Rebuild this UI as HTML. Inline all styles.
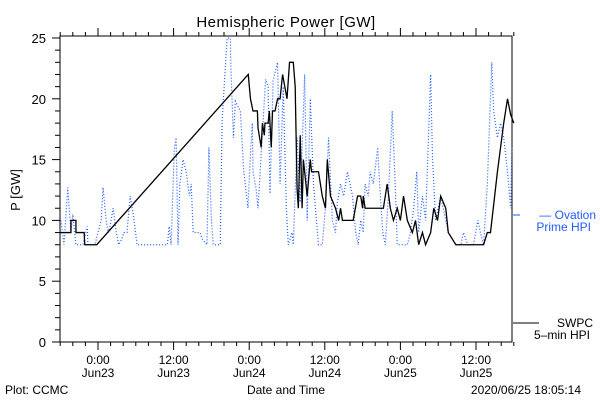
<!DOCTYPE html>
<html><head><meta charset="utf-8"><style>
body{margin:0;background:#fff}
svg{display:block}
text{font-family:"Liberation Sans",sans-serif;}
</style></head><body>
<svg id="chart" width="600" height="400" viewBox="0 0 600 400" xmlns="http://www.w3.org/2000/svg">
<rect x="0" y="0" width="600" height="400" fill="#fff"/>
<text x="286" y="27" font-size="15" text-anchor="middle" letter-spacing="0.5">Hemispheric Power [GW]</text>
<text x="20" y="190" font-size="13" text-anchor="middle" transform="rotate(-90 20 190)">P [GW]</text>
<text x="286" y="394" font-size="12" text-anchor="middle">Date and Time</text>
<text x="5" y="394" font-size="12">Plot: CCMC</text>
<text x="581" y="394" font-size="12" text-anchor="end">2020/06/25 18:05:14</text>
<g id="axes"></g>
<g id="series"></g>
<line x1="513" y1="215" x2="520" y2="215" stroke="#1f5cff" stroke-width="1"/>
<text x="596" y="219" font-size="12" fill="#1f5cff" text-anchor="end">— Ovation</text>
<text x="591" y="231" font-size="12" fill="#1f5cff" text-anchor="end">Prime HPI</text>
<line x1="513" y1="323" x2="539" y2="323" stroke="#000" stroke-width="1"/>
<text x="593" y="327" font-size="12" text-anchor="end">SWPC</text>
<text x="590" y="339" font-size="12" text-anchor="end">5–min HPI</text>
</svg>
<script>
const yTicks=[0,5,10,15,20,25];
const xTickHours=[0,12,24,36,48,60];
const xTickLabels=[["0:00","Jun23"],["12:00","Jun23"],["0:00","Jun24"],["12:00","Jun24"],["0:00","Jun25"],["12:00","Jun25"]];
const blueTimes=[-5.9,-5.4,-4.8,-4.3,-4.0,-3.5,-2.9,-2.4,-1.7,-1.6,
-0.8,-0.5,0,0.5,0.8,1.3,1.6,1.9,2.4,2.9,
3.3,3.8,4.1,4.6,5.1,5.6,6.2,7.5,9.1,11.0,
11.3,11.6,12.1,12.4,12.7,13.0,13.5,14.0,14.5,14.8,
15.1,15.4,15.9,16.2,16.5,17.3,17.6,18.0,18.3,18.6,
19.4,19.7,20.2,20.5,21.0,21.1,21.5,21.8,22.6,23.1,
23.8,24.2,24.5,24.6,25.1,25.4,26.6,27.0,27.3,27.8,
28.5,28.9,29.4,29.9,30.2,30.8,31.0,31.6,32.1,32.8,
33.2,33.7,34.2,35.0,35.6,36.1,36.6,37.2,37.7,38.0,
38.5,39.0,39.6,40.4,40.9,41.3,41.7,42.1,42.4,42.9,
43.2,43.7,44.4,44.7,45.2,45.6,46.1,46.7,47.1,47.5,
48.0,49.1,49.6,50.1,50.6,50.9,51.5,52.0,52.8,53.1,
53.6,54.4,55.2,55.6,56.8,57.6,58.0,58.7,59.6,60.3,
60.7,61.2,61.8,62.5,62.8,63.4,63.9,64.4,65.0,65.5,
65.7];
const blueValues=[10,8,12.7,9,10.5,8,8,8,9.5,8,
8,8,9,10,12.7,10,9,9.5,11,9,
8,8.5,9,9,12,10.5,8,8,8,8,
9.5,8,15.8,16.8,8,13,15,14,12,13,
9,9,9,9,8.5,8,16,10,8,8,
8,18.2,22.5,25,25,22.5,16.8,19.8,19,14.3,
11,15.5,18,14,12.6,11,21.6,21,12.2,21.5,
23,13,21,11,8,9,8,16.8,11.5,22,
10,20,13,8,8,11,16.8,10,9,11.5,
13,12,14,12,9,8,10,9,13,12,
14,13,16,13,9,8,12,19,14,8,
8,8,9,11,14,9,12,10,22,15,
10,12,10,9,8,8,9,8,8,10,
9,8,13,23,19,16.8,18,16.8,14,11,
16];
const blackTimes=[-6,-4.3,-4.3,-3.5,-3.5,-2.2,-2.1,-0.2,23.85,24.2,
24.6,25.3,25.4,25.9,26.1,26.4,26.5,27.0,27.2,27.5,
27.7,28.1,28.5,28.9,29.3,30.0,30.4,31.0,31.3,31.6,
31.8,32.1,32.4,32.6,33.2,33.7,33.9,35.0,35.6,36.1,
36.4,36.9,37.7,38.2,38.5,38.8,40.5,41.2,41.7,42.0,
42.1,42.4,45.3,45.9,46.4,46.9,47.5,48.0,48.5,49.1,
49.9,50.4,50.9,51.5,52.0,52.8,53.3,53.9,54.4,55.2,
55.6,56.8,57.9,61.2,61.8,62.3,63.4,64.4,65.0,65.5,
66];
const blackValues=[9,9,10,10,9,9,8,8,22,20,
19,19,17.6,16,18,17,18,18,19,16,
19,19,20,20,22,20,23,23,21,12.6,
11,17,11,15,12,15,14,14,12,11,
15,12,11,10,11,10,10,12,12,11,
12,11,11,13,11,10,11,10,12,10,
9,10,8,9,8,9,11,10,12,11,
9,8,8,8,9,9,14,18,20,18.7,
18];
const NS="http://www.w3.org/2000/svg";
const L=60,R=512,T=36,B=342;
function xs(h){return 98+(h)*75.6/12;}
function ys(v){return B-v*12.16;}
function mk(tag,attrs,parent){const e=document.createElementNS(NS,tag);for(const k in attrs)e.setAttribute(k,attrs[k]);parent.appendChild(e);return e;}
const ax=document.getElementById('axes');
const frame=mk('rect',{x:L,y:T,width:R-L,height:B-T,fill:'none',stroke:'#000','stroke-width':1},ax);


for(let v=0;v<=25;v++){
  const len=(v%5===0)?8:5;
  const t=mk('line',{x1:L-len,y1:ys(v),x2:L,y2:ys(v),stroke:'#000'},ax);
  
  
}
yTicks.forEach(v=>{
  const t=mk('text',{x:L-14,y:ys(v)+5,'font-size':13,'text-anchor':'end'},ax);
  t.textContent=v;
  
  
});
for(let h=-6;h<=66;h+=2){
  const major=(h%12===0);
  const len=major?8:4;
  const t=mk('line',{x1:xs(h),y1:B,x2:xs(h),y2:B+len,stroke:'#000'},ax);
  
  
  const t2=mk('line',{x1:xs(h),y1:T,x2:xs(h),y2:T-len,stroke:'#000'},ax);
  
  
}
xTickHours.forEach((h,i)=>{
  const a=mk('text',{x:xs(h),y:364,'font-size':12,'text-anchor':'middle'},ax);
  a.textContent=xTickLabels[i][0];
  
  
  const b=mk('text',{x:xs(h),y:377,'font-size':12,'text-anchor':'middle'},ax);
  b.textContent=xTickLabels[i][1];
  
  
});
const sg=document.getElementById('series');
const bp=mk('polyline',{points:blueTimes.map((t,i)=>xs(t)+','+ys(blueValues[i])).join(' '),fill:'none',stroke:'#1f5cff','stroke-width':1.2,'stroke-dasharray':'1 2'},sg);


const kp=mk('polyline',{points:blackTimes.map((t,i)=>xs(t)+','+ys(blackValues[i])).join(' '),fill:'none',stroke:'#000','stroke-width':1.3},sg);


</script>
</body></html>
